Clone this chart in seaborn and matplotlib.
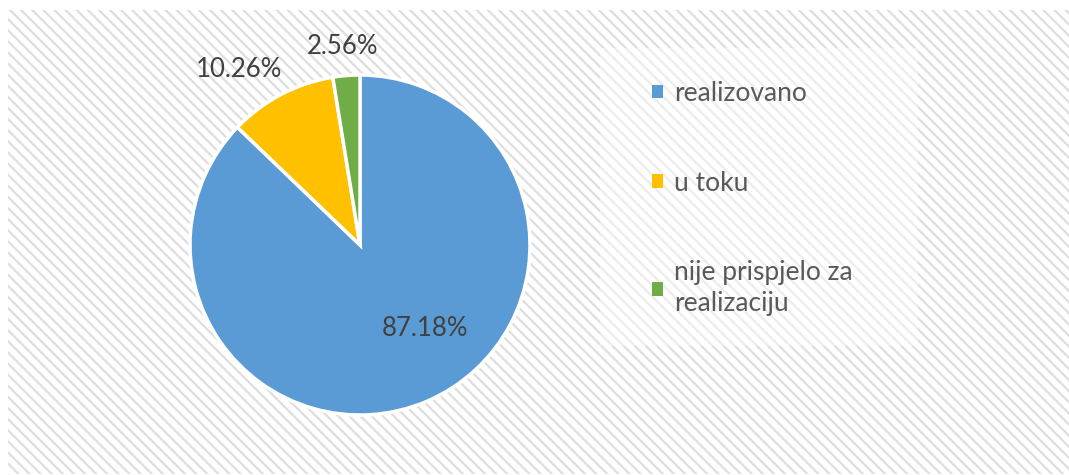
import matplotlib
matplotlib.use("Agg")
import matplotlib.pyplot as plt
from matplotlib.patches import Rectangle, Patch
import seaborn as sns

# data
labels = ["realizovano", "u toku", "nije prispjelo za\nrealizaciju"]
shares = [87.18, 10.26, 2.56]
pct_text = ["87.18%", "10.26%", "2.56%"]

sns.set_theme(style="white")
plt.rcParams["font.family"] = ["Lato", "DejaVu Sans"]
plt.rcParams["hatch.linewidth"] = 1.6

colors = sns.color_palette(["#5B9BD5", "#FFC000", "#70AD47"])

W, H = 1069, 475
fig = plt.figure(figsize=(W / 100, H / 100), dpi=100)
fig.patch.set_facecolor("white")

def px(x, y, w, h):
    # pixel box (from top-left) -> figure fraction
    return [x / W, 1 - (y + h) / H, w / W, h / H]

# hatched chart area
b = px(8, 10, 1061, 464)
fig.patches.append(Rectangle((b[0], b[1]), b[2], b[3], transform=fig.transFigure,
                             facecolor="white", edgecolor="#dedede", hatch="\\\\\\",
                             linewidth=0, zorder=-2))
# lighter box behind the legend
b = px(600, 48, 318, 298)
fig.patches.append(Rectangle((b[0], b[1]), b[2], b[3], transform=fig.transFigure,
                             facecolor="white", alpha=0.45, linewidth=0, zorder=-1))

ax = fig.add_axes(px(190, 75, 340, 340))
ax.set_zorder(2)
ax.set_facecolor("none")
wedges, _ = ax.pie(shares, colors=colors, startangle=90, counterclock=False,
                   radius=1, wedgeprops=dict(edgecolor="white", linewidth=2.5))
ax.set_xlim(-1, 1)
ax.set_ylim(-1, 1)
ax.set_aspect("equal")
ax.axis("off")

# data labels where the reference puts them
label_pos = [(0.38, -0.49), (-0.71, 1.03), (-0.10, 1.17)]
for (lx, ly), t in zip(label_pos, pct_text):
    ax.text(lx, ly, t, ha="center", va="center", fontsize=18.5, color="#404040")

handles = [Patch(facecolor=c, edgecolor="none") for c in colors]
leg = fig.legend(handles, labels, loc="upper left", bbox_to_anchor=(652 / W, 1 - 81 / H),
                 frameon=False, fontsize=19, labelcolor="#595959", borderpad=0,
                 borderaxespad=0, handlelength=0.42, handleheight=0.42,
                 handletextpad=0.42, labelspacing=2.45)
leg.set_zorder(3)
for t in leg.get_texts():
    t.set_linespacing(1.3)

fig.savefig("out.png", dpi=100)
